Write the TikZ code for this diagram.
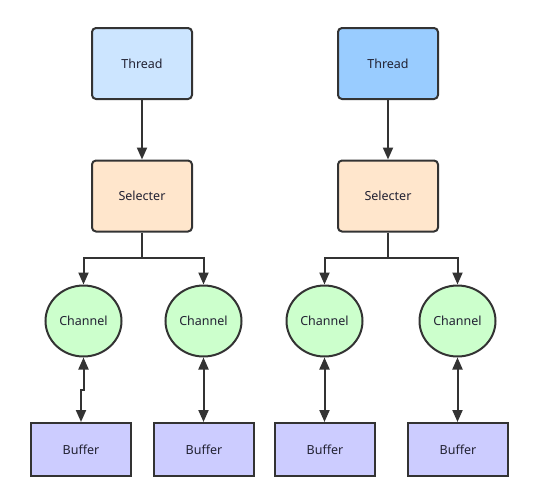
\documentclass[tikz,border=0pt]{standalone}
\usepackage{fontspec}
\setmainfont{Noto Sans}
\usetikzlibrary{arrows.meta,shapes.geometric}
\definecolor{linec}{HTML}{333333}
\definecolor{txtc}{HTML}{222233}
\definecolor{threadA}{HTML}{CCE5FF}
\definecolor{threadB}{HTML}{99CCFF}
\definecolor{selc}{HTML}{FFE6CC}
\definecolor{chc}{HTML}{CCFFCC}
\definecolor{bufc}{HTML}{CCCCFF}
\begin{document}
\begin{tikzpicture}[x=1pt,y=-1pt,
  base/.style={draw=linec,line width=2pt,text=txtc,font=\fontsize{12.5}{14}\selectfont,inner sep=0pt},
  rbox/.style={base,rectangle,rounded corners=4pt,minimum width=100pt,minimum height=71pt},
  chan/.style={base,ellipse,fill=chc,minimum width=76pt,minimum height=71pt},
  buf/.style={base,rectangle,fill=bufc,minimum width=100pt,minimum height=53pt},
  tip/.tip={Triangle[length=12pt,width=10pt]},
  conn/.style={draw=linec,line width=2pt,-tip},
  dconn/.style={draw=linec,line width=2pt,tip-tip}
]
\useasboundingbox[fill=white] (0,0) rectangle (539,491);
\node[rbox,fill=threadA] (t1) at (142,63.5) {Thread};
\node[rbox,fill=threadB] (t2) at (388,63.5) {Thread};
\node[rbox,fill=selc] (s1) at (142,196) {Selecter};
\node[rbox,fill=selc] (s2) at (388,196) {Selecter};
\node[chan] (c1) at (83.5,321) {Channel};
\node[chan] (c2) at (203.5,321) {Channel};
\node[chan] (c3) at (324.5,321) {Channel};
\node[chan] (c4) at (457.5,321) {Channel};
\node[buf] (b1) at (81,449.5) {Buffer};
\node[buf] (b2) at (204,449.5) {Buffer};
\node[buf] (b3) at (325,449.5) {Buffer};
\node[buf] (b4) at (458,449.5) {Buffer};
\coordinate (j1) at (142,258);
\coordinate (j2) at (388,258);
\coordinate (k1) at (83.5,390);
\draw[conn] (t1) -- (s1);
\draw[conn] (t2) -- (s2);
\draw[line width=2pt,draw=linec] (s1.south) -- (j1);
\draw[line width=2pt,draw=linec] (s2.south) -- (j2);
\draw[conn] (j1) -| (c1.north);
\draw[conn] (j1) -| (c2.north);
\draw[conn] (j2) -| (c3.north);
\draw[conn] (j2) -| (c4.north);
\draw[dconn] (c1.south) -- (k1) -| (b1.north);
\draw[dconn] (c2.south) -- (c2.south |- b2.north);
\draw[dconn] (c3.south) -- (c3.south |- b3.north);
\draw[dconn] (c4.south) -- (c4.south |- b4.north);
\end{tikzpicture}
\end{document}
